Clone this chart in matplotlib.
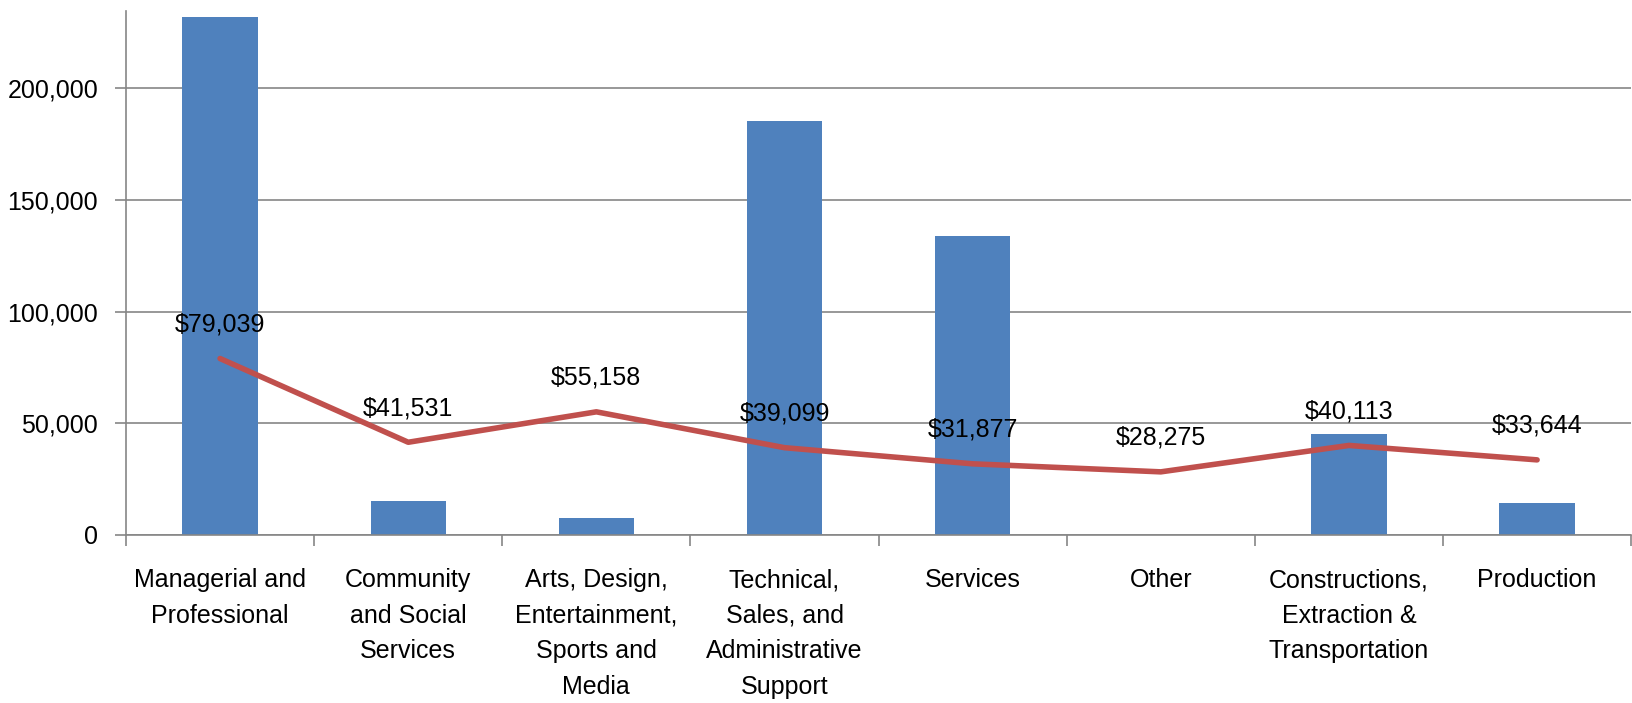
import numpy as np
import matplotlib
matplotlib.use("Agg")
import matplotlib.pyplot as plt
from matplotlib.ticker import FuncFormatter

plt.rcParams['font.family'] = ['Liberation Sans', 'DejaVu Sans']

categories = ["Managerial and\nProfessional", "Community\nand Social\nServices",
              "Arts, Design,\nEntertainment,\nSports and\nMedia",
              "Technical,\nSales, and\nAdministrative\nSupport", "Services", "Other",
              "Constructions,\nExtraction &\nTransportation", "Production"]
workers = [232200, 15100, 7800, 185300, 134000, 0, 45200, 14200]
earnings = [79039, 41531, 55158, 39099, 31877, 28275, 40113, 33644]

grey = "#868686"
fs = 18

fig, ax = plt.subplots(figsize=(16.32, 7.03), dpi=100)
fig.subplots_adjust(left=0.0772, right=0.9995, bottom=0.239, top=0.985)

x = np.arange(len(categories))
ax.bar(x, workers, width=0.4, color="#4F81BD", zorder=2)
ax.plot(x, earnings, color="#C0504D", lw=4, zorder=3, solid_capstyle="round")
for xi, v in zip(x, earnings):
    ax.annotate("${:,}".format(v), (xi, v), xytext=(0, 16), textcoords="offset points",
                ha="center", va="bottom", fontsize=fs, zorder=4)

ax.set_xlim(-0.5, len(categories) - 0.5)
ax.set_ylim(0, 234900)
ax.set_yticks([0, 50000, 100000, 150000, 200000])
ax.yaxis.set_major_formatter(FuncFormatter(lambda v, p: "{:,.0f}".format(v)))
ax.grid(axis="y", color=grey, lw=1.2, zorder=1)

ax.set_xticks(x)
ax.set_xticklabels(categories, fontsize=fs, linespacing=1.6)
ax.set_xticks(np.arange(-0.5, len(categories)), minor=True)
ax.tick_params(axis="x", which="major", length=0, pad=24)
ax.tick_params(axis="x", which="minor", length=8, color=grey, width=1.2)
ax.tick_params(axis="y", length=8, color=grey, width=1.2, pad=12, labelsize=fs)

for s in ["top", "right"]:
    ax.spines[s].set_visible(False)
for s in ["left", "bottom"]:
    ax.spines[s].set_color(grey)
    ax.spines[s].set_linewidth(1.2)

fig.savefig("out.png", dpi=100)
